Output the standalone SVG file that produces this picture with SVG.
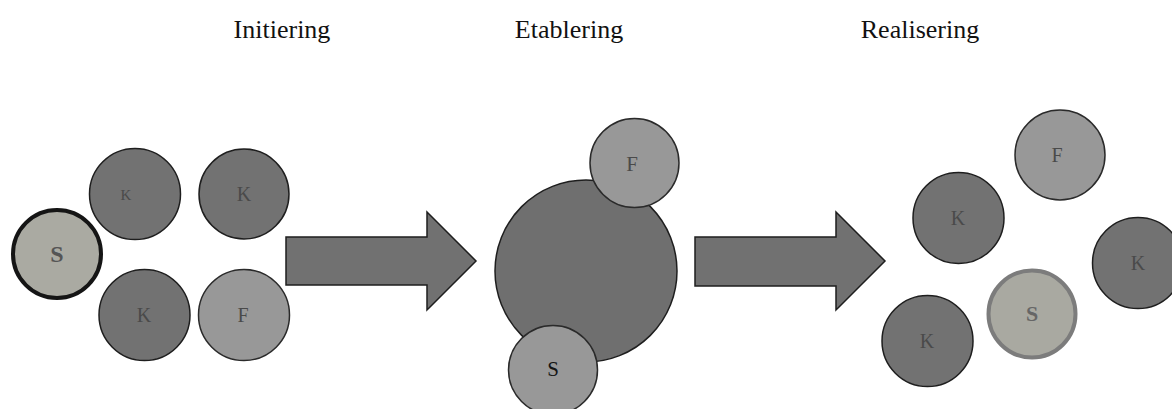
<svg xmlns="http://www.w3.org/2000/svg" width="1172" height="409" viewBox="0 0 1172 409">
<style>
.title{font-family:"Liberation Serif",serif;font-size:26px;fill:#111;text-anchor:middle}
.lbl{font-family:"Liberation Serif",serif;font-size:20px;fill:#4a4a4a;text-anchor:middle}
.bold{font-weight:bold}
.k{fill:#727272;stroke:#1e1e1e;stroke-width:1.5}
.f{fill:#989898;stroke:#2a2a2a;stroke-width:1.5}
.big{fill:#6f6f6f;stroke:#1e1e1e;stroke-width:1.5}
.s1{fill:#aaaaa2;stroke:#151515;stroke-width:4}
.s2{fill:#a9a9a1;stroke:#7c7c7c;stroke-width:4}
.arr{fill:#717171;stroke:#1e1e1e;stroke-width:1.5;stroke-linejoin:miter}
</style>
<rect width="1172" height="409" fill="#ffffff"/>
<g id="titles">
<text class="title" x="282" y="38">Initiering</text>
<text class="title" x="569" y="38">Etablering</text>
<text class="title" x="920" y="38">Realisering</text>
</g>
<g id="connectors">
<polygon class="arr" points="286,237 427,237 427,212 476,261 427,310 427,285 286,285"/>
<polygon class="arr" points="695,237 836,237 836,212 885,261 836,310 836,286 695,286"/>
</g>
<g id="init-s"><circle class="s1" cx="57" cy="254" r="44"/><text class="lbl bold" x="57" y="262" style="fill:#555;font-size:24px">S</text></g>
<g id="init-k1"><circle class="k" cx="135" cy="194" r="45.5"/><text class="lbl" x="126" y="200" style="font-size:15px">K</text></g>
<g id="init-k2"><circle class="k" cx="244" cy="194" r="45"/><text class="lbl" x="244" y="201">K</text></g>
<g id="init-k3"><circle class="k" cx="144.5" cy="315" r="45.5"/><text class="lbl" x="144" y="322">K</text></g>
<g id="init-f"><circle class="f" cx="244" cy="315" r="45.5"/><text class="lbl" x="243" y="322">F</text></g>
<g id="etab-big"><circle class="big" cx="586" cy="271" r="91"/></g>
<g id="etab-f"><circle class="f" cx="634.5" cy="163" r="44.5"/><text class="lbl" x="632" y="171" style="font-size:21px">F</text></g>
<g id="etab-s"><circle class="f" cx="553" cy="370" r="44.5"/><text class="lbl" x="553" y="376" style="fill:#151515;font-size:21px">S</text></g>
<g id="real-f"><circle class="f" cx="1060" cy="155" r="45"/><text class="lbl" x="1057" y="162">F</text></g>
<g id="real-k1"><circle class="k" cx="958.5" cy="218" r="45.5"/><text class="lbl" x="958" y="225">K</text></g>
<g id="real-k2"><circle class="k" cx="1138" cy="263" r="45.5"/><text class="lbl" x="1138" y="270">K</text></g>
<g id="real-k3"><circle class="k" cx="927.5" cy="341" r="45.5"/><text class="lbl" x="927" y="348">K</text></g>
<g id="real-s"><circle class="s2" cx="1032" cy="314" r="43.5"/><text class="lbl bold" x="1032" y="321" style="fill:#666;font-size:22px">S</text></g>
</svg>
